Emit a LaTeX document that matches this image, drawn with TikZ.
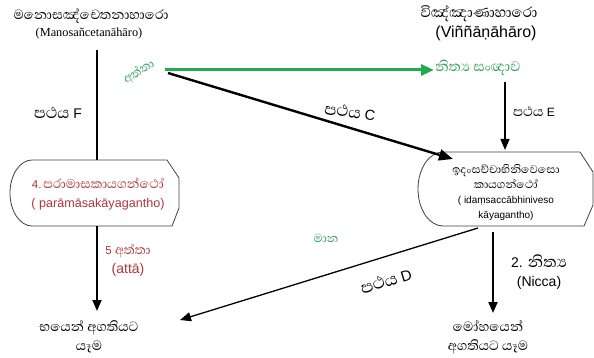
\documentclass[tikz,border=0pt]{standalone}
\usepackage{fontspec}
\setmainfont{Liberation Sans}
\newfontfamily\sinhfont[Script=Sinhala,Scale=1.42]{Abhaya Libre}
\newfontfamily\tms{Liberation Serif}
\usetikzlibrary{arrows.meta}
\definecolor{leafgreen}{RGB}{34,170,80}
\definecolor{textgreen}{RGB}{40,160,90}
\definecolor{rust}{RGB}{175,55,55}
\newcommand\si[1]{{\sinhfont #1}}
\newcommand\fs[2]{\fontsize{#1}{#2}\selectfont}
\tikzset{
  x=1pt, y=1pt,
  lbl/.style={inner sep=1pt, align=center},
  boxline/.style={draw=black!75, line width=0.8pt, fill=white},
  wire/.style={line width=1.4pt},
  tip/.style={-{Triangle[length=11pt,width=9pt]}},
  bigtip/.style={-{Triangle[length=14pt,width=11pt]}},
}
\begin{document}
\begin{tikzpicture}
\useasboundingbox (0,0) rectangle (594,-358);

% headings
\node[lbl, font=\fs{12}{14}] (mano) at (91,-16) {\si{මනොසඤ්චෙතනාහාරො}};
\node[lbl, font=\fs{12.3}{14}\tms] (manoL) at (89,-34) {(Manosañcetanāhāro)};
\node[lbl, font=\fs{13}{16}] (vinn) at (479,-14) {\si{විඤ්ඤාණාහාරො}};
\node[lbl, font=\fs{16}{18}] (vinnL) at (486,-33) {(Viññāṇāhāro)};

% left box: parāmāsakāyagantho
\draw[boxline] (32,-160) -- (167,-160) -- (179,-178) -- (179,-208) -- (172,-226) -- (32,-226)
  .. controls (19.9,-226) and (10,-211.2) .. (10,-193)
  .. controls (10,-174.8) and (19.9,-160) .. cycle;
\node[lbl, text=rust, font=\fs{12.6}{19}] (para) at (98,-194) {{\fs{11.5}{19}4.\,\si{පරාමාසකායගන්ථෝ}}\\( parāmāsakāyagantho)};
\coordinate (paraT) at (97,-160);
\coordinate (paraB) at (97,-226);

% right box: idaṃsaccābhiniveso kāyagantho
\draw[boxline] (443,-152) -- (580,-152) -- (593,-172) -- (593,-205) -- (584,-226) -- (443,-226)
  .. controls (429.2,-226) and (418,-209.4) .. (418,-189)
  .. controls (418,-168.6) and (429.2,-152) .. cycle;
\node[lbl, font=\fs{10}{15}] (idam) at (506,-192) {\si{ඉදංසච්චාභිනිවෙසො}\\\si{කායගන්ථෝ}\\( idaṃsaccābhiniveso\\kāyagantho)};
\coordinate (idamT) at (505,-150);
\coordinate (idamL) at (453,-159);
\coordinate (idamBL) at (478,-228);
\coordinate (idamB) at (493,-232);

% green arrow: attā -> nicca sañña
\node[lbl, text=textgreen, rotate=32, font=\fs{11}{12}] (atta) at (139,-72) {\si{අත්තා}};
\node[lbl, text=textgreen, anchor=west, font=\fs{12.5}{14}] (sanna) at (434,-68) {\si{නිත්‍ය සංඥාව}};
\coordinate (gS) at (165,-70);
\draw[leafgreen, line width=3pt, -{Triangle[length=13pt,width=11pt]}] (gS) -- (sanna.west |- gS);

% path C
\coordinate (cS) at (168,-73);
\draw[wire, line width=2.4pt, bigtip] (cS) -- (idamL);
\node[lbl, rotate=-8, font=\fs{14.5}{16}] (pC) at (350,-112) {\si{පථය} C};

% path E
\coordinate (eS) at (505,-82);
\draw[wire, tip] (eS) -- (idamT);
\node[lbl, font=\fs{12}{14}] (pE) at (534,-112) {\si{පථය} E};

% path F
\coordinate (fS) at (97,-50);
\draw[wire] (fS) -- (paraT);
\node[lbl, font=\fs{14}{16}] (pF) at (58,-113) {\si{පථය} F};

% bottom-left: bhayena agati
\node[lbl, font=\fs{12}{19}] (bhaya) at (89,-337) {\si{භයෙන් අගතියට}\\\si{යෑම}};
\draw[wire, line width=1.8pt, tip] (paraB) -- (97,-311) coordinate (bhayaT);
\node[lbl, text=rust, font=\fs{14}{19}] (atta5) at (128,-260) {{\fs{11.5}{19}5 \si{අත්තා}}\\(attā)};

% māna and path D
\node[lbl, text=textgreen, font=\fs{10.5}{12}] (mana) at (326,-238) {\si{මාන}};
\coordinate (dE) at (180,-320);
\draw[wire, line width=1.3pt, tip] (idamBL) -- (dE);
\node[lbl, rotate=17, font=\fs{15}{16}] (pD) at (386,-281) {\si{පථය} D};

% bottom-right: mohena agati
\node[lbl, font=\fs{12}{19}] (moha) at (488,-337) {\si{මෝහයෙන්}\\\si{අගතියට යෑම}};
\draw[wire, line width=2pt, tip] (idamB) -- (493,-313) coordinate (mohaT);
\node[lbl, font=\fs{14}{19}] (nicca) at (539,-272) {2. \si{නිත්‍ය}\\(Nicca)};
\end{tikzpicture}
\end{document}
